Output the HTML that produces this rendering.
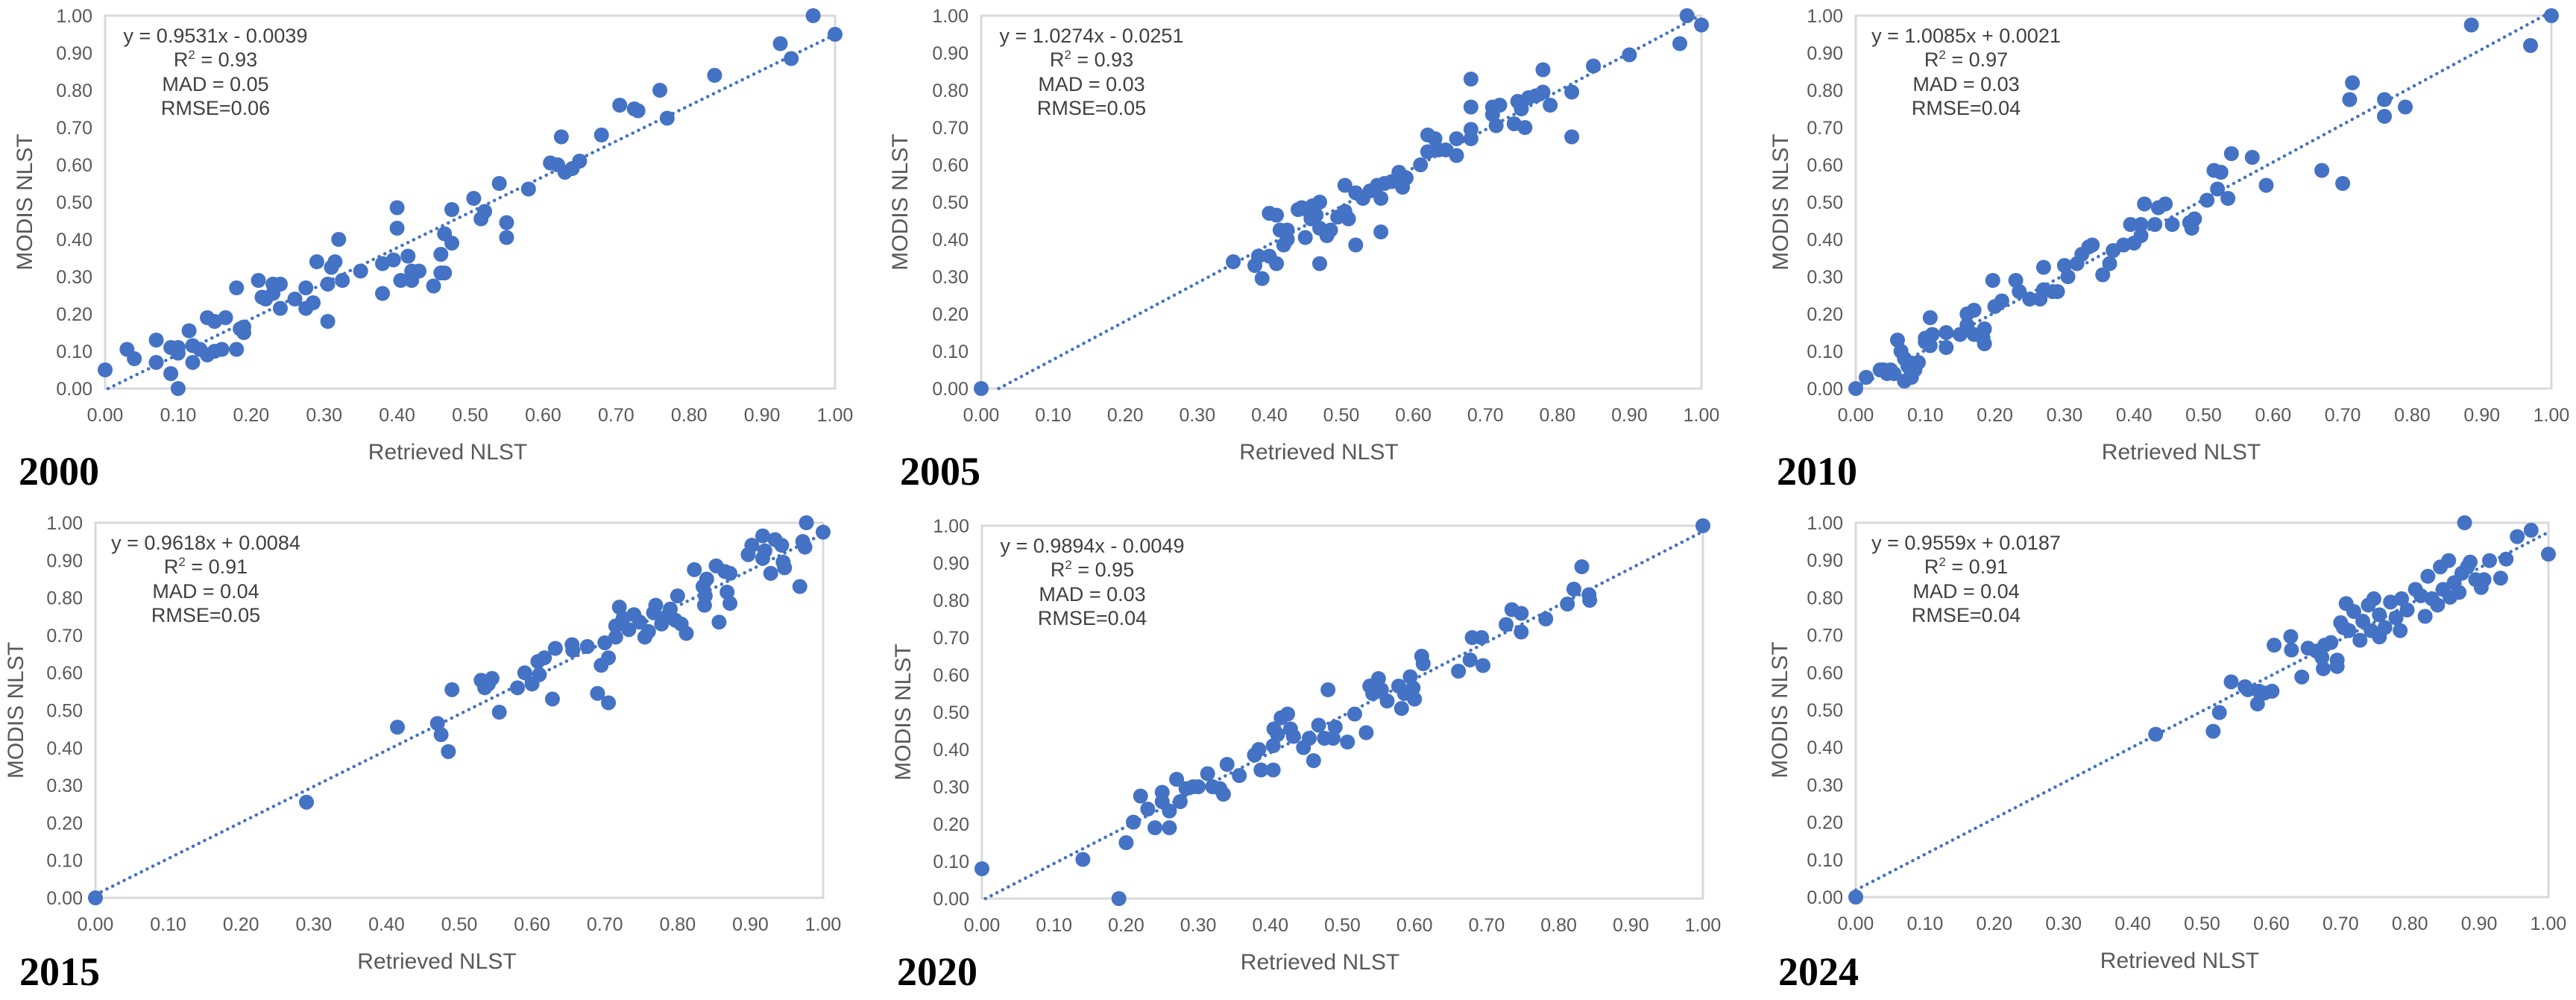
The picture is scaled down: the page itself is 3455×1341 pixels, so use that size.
<!DOCTYPE html>
<html>
<head>
<meta charset="utf-8">
<style>
  html, body { margin: 0; padding: 0; background: #ffffff; }
  body { width: 3455px; height: 1341px; overflow: hidden; }
  svg { display: block; }
  .tick { font-family: "Liberation Sans", sans-serif; font-size: 25px; fill: #595959; }
  .axtitle { font-family: "Liberation Sans", sans-serif; font-size: 30px; fill: #595959; }
  .annot { font-family: "Liberation Sans", sans-serif; font-size: 27px; fill: #404040; }
  .year { font-family: "Liberation Serif", serif; font-size: 54px; font-weight: bold; fill: #000; }
</style>
</head>
<body>
<svg id="fig" width="3455" height="1341" viewBox="0 0 3455 1341" xmlns="http://www.w3.org/2000/svg"></svg>
<script>
// ---------- data ----------
const years = ["2000", "2005", "2010", "2015", "2020", "2024"];
const slopes = [0.9531, 1.0274, 1.0085, 0.9618, 0.9894, 0.9559];
const intercepts = [-0.0039, -0.0251, 0.0021, 0.0084, -0.0049, 0.0187];
const eqLabels = ["y = 0.9531x - 0.0039", "y = 1.0274x - 0.0251", "y = 1.0085x + 0.0021", "y = 0.9618x + 0.0084", "y = 0.9894x - 0.0049", "y = 0.9559x + 0.0187"];
const r2Labels = ["0.93", "0.93", "0.97", "0.91", "0.95", "0.91"];
const madLabels = ["MAD = 0.05", "MAD = 0.03", "MAD = 0.03", "MAD = 0.04", "MAD = 0.03", "MAD = 0.04"];
const rmseLabels = ["RMSE=0.06", "RMSE=0.05", "RMSE=0.04", "RMSE=0.05", "RMSE=0.04", "RMSE=0.04"];
const tickValues = [0, 0.1, 0.2, 0.3, 0.4, 0.5, 0.6, 0.7, 0.8, 0.9, 1.0];
const tickLabels = ["0.00", "0.10", "0.20", "0.30", "0.40", "0.50", "0.60", "0.70", "0.80", "0.90", "1.00"];

const x2000 = [0.00,0.03,0.04,0.07,0.07,0.09,0.10,0.09,0.10,0.10,0.115,0.12,0.12,0.13,0.14,0.15,0.16,0.18,0.14,0.15,0.165,0.18,0.185,0.19,0.19,0.21,0.215,0.23,0.24,0.23,0.24,0.22,0.26,0.275,0.275,0.285,0.29,0.305,0.305,0.31,0.315,0.32,0.325,0.35,0.38,0.38,0.395,0.40,0.40,0.405,0.42,0.415,0.42,0.43,0.45,0.46,0.465,0.46,0.465,0.475,0.475,0.505,0.515,0.52,0.54,0.55,0.55,0.58,0.61,0.62,0.63,0.64,0.65,0.625,0.68,0.705,0.73,0.725,0.76,0.77,0.835,0.925,0.94,0.97,1.00];
const y2000 = [0.05,0.105,0.08,0.13,0.07,0.04,0.00,0.11,0.11,0.095,0.155,0.07,0.115,0.105,0.09,0.10,0.105,0.105,0.19,0.18,0.19,0.27,0.16,0.15,0.165,0.29,0.245,0.28,0.28,0.255,0.215,0.24,0.24,0.27,0.215,0.23,0.34,0.28,0.18,0.325,0.34,0.40,0.29,0.315,0.255,0.335,0.345,0.485,0.43,0.29,0.29,0.355,0.315,0.315,0.275,0.31,0.31,0.36,0.415,0.39,0.48,0.51,0.455,0.475,0.55,0.445,0.405,0.535,0.605,0.60,0.58,0.59,0.61,0.675,0.68,0.76,0.745,0.75,0.80,0.725,0.84,0.925,0.885,1.00,0.95];

const x2005 = [0,0.35,0.38,0.385,0.39,0.40,0.41,0.40,0.41,0.415,0.425,0.42,0.425,0.44,0.445,0.455,0.46,0.47,0.465,0.458,0.45,0.47,0.48,0.485,0.47,0.495,0.505,0.51,0.52,0.505,0.52,0.53,0.54,0.555,0.555,0.55,0.56,0.57,0.58,0.585,0.59,0.61,0.62,0.63,0.62,0.635,0.645,0.66,0.66,0.68,0.68,0.68,0.68,0.71,0.72,0.71,0.715,0.74,0.755,0.745,0.75,0.76,0.77,0.78,0.79,0.78,0.82,0.82,0.85,0.90,0.97,0.98,1.0];
const y2005 = [0,0.34,0.33,0.355,0.295,0.355,0.335,0.47,0.465,0.425,0.425,0.385,0.40,0.48,0.485,0.475,0.49,0.50,0.465,0.455,0.405,0.43,0.41,0.425,0.335,0.46,0.475,0.455,0.385,0.545,0.525,0.51,0.53,0.51,0.42,0.545,0.55,0.555,0.58,0.54,0.565,0.60,0.68,0.67,0.635,0.64,0.64,0.625,0.67,0.83,0.755,0.695,0.67,0.755,0.76,0.735,0.705,0.71,0.70,0.77,0.75,0.78,0.785,0.795,0.76,0.855,0.795,0.675,0.865,0.895,0.925,1.0,0.975];

const x2010 = [0,0.015,0.035,0.04,0.05,0.045,0.055,0.06,0.065,0.07,0.075,0.08,0.07,0.08,0.085,0.09,0.10,0.10,0.11,0.107,0.107,0.13,0.13,0.15,0.16,0.16,0.17,0.17,0.185,0.183,0.185,0.197,0.20,0.21,0.23,0.235,0.25,0.265,0.27,0.27,0.283,0.29,0.30,0.305,0.318,0.325,0.335,0.34,0.355,0.365,0.37,0.385,0.395,0.40,0.41,0.41,0.415,0.43,0.435,0.445,0.455,0.48,0.483,0.487,0.505,0.515,0.52,0.525,0.535,0.54,0.57,0.59,0.67,0.70,0.71,0.714,0.76,0.76,0.79,0.885,0.97,1.0];
const y2010 = [0,0.03,0.05,0.05,0.05,0.04,0.04,0.13,0.10,0.08,0.06,0.045,0.02,0.03,0.05,0.07,0.125,0.135,0.145,0.115,0.19,0.15,0.11,0.145,0.17,0.20,0.21,0.145,0.16,0.135,0.12,0.29,0.22,0.235,0.29,0.26,0.24,0.24,0.265,0.325,0.26,0.26,0.33,0.30,0.335,0.36,0.38,0.385,0.305,0.335,0.37,0.385,0.44,0.39,0.41,0.44,0.495,0.44,0.485,0.495,0.44,0.445,0.43,0.455,0.505,0.585,0.535,0.58,0.51,0.63,0.62,0.545,0.585,0.55,0.775,0.82,0.775,0.73,0.755,0.975,0.92,1.0];

const x2015 = [0,0.29,0.415,0.47,0.475,0.485,0.49,0.53,0.54,0.545,0.535,0.555,0.58,0.59,0.60,0.61,0.608,0.617,0.628,0.632,0.655,0.656,0.676,0.69,0.695,0.705,0.705,0.70,0.715,0.715,0.72,0.725,0.733,0.74,0.748,0.755,0.76,0.767,0.77,0.778,0.785,0.79,0.797,0.805,0.812,0.80,0.823,0.835,0.838,0.84,0.837,0.853,0.857,0.865,0.872,0.868,0.872,0.897,0.902,0.917,0.92,0.917,0.928,0.934,0.943,0.945,0.947,0.968,0.972,0.975,0.977,1.0];
const y2015 = [0,0.255,0.455,0.465,0.435,0.39,0.555,0.58,0.57,0.585,0.56,0.495,0.56,0.60,0.57,0.595,0.63,0.64,0.53,0.665,0.675,0.66,0.67,0.545,0.62,0.52,0.64,0.68,0.695,0.725,0.775,0.745,0.715,0.755,0.735,0.695,0.71,0.76,0.78,0.73,0.75,0.77,0.74,0.73,0.705,0.805,0.875,0.83,0.805,0.85,0.78,0.885,0.735,0.87,0.865,0.815,0.785,0.915,0.94,0.965,0.925,0.905,0.865,0.955,0.94,0.895,0.88,0.83,0.95,0.935,1.0,0.975];

const x2020 = [0,0.14,0.19,0.20,0.21,0.22,0.23,0.24,0.25,0.25,0.26,0.26,0.27,0.275,0.283,0.293,0.30,0.313,0.32,0.33,0.335,0.34,0.357,0.378,0.384,0.387,0.404,0.404,0.405,0.41,0.415,0.424,0.428,0.432,0.446,0.454,0.46,0.467,0.475,0.48,0.487,0.49,0.507,0.517,0.533,0.538,0.542,0.55,0.554,0.562,0.578,0.582,0.586,0.594,0.598,0.60,0.61,0.612,0.661,0.677,0.68,0.693,0.695,0.727,0.735,0.748,0.748,0.782,0.812,0.821,0.832,0.842,0.843,1.0];
const y2020 = [0.08,0.105,0.0,0.15,0.205,0.275,0.24,0.19,0.285,0.26,0.19,0.235,0.32,0.26,0.295,0.30,0.30,0.335,0.30,0.295,0.28,0.36,0.33,0.385,0.40,0.345,0.345,0.41,0.455,0.44,0.485,0.495,0.455,0.435,0.405,0.43,0.37,0.465,0.43,0.56,0.43,0.46,0.42,0.495,0.445,0.57,0.55,0.59,0.56,0.53,0.57,0.51,0.55,0.595,0.565,0.535,0.65,0.63,0.61,0.64,0.70,0.70,0.625,0.735,0.775,0.765,0.715,0.75,0.79,0.83,0.89,0.815,0.80,1.0];

const x2024 = [0,0.433,0.516,0.525,0.542,0.562,0.566,0.58,0.582,0.59,0.601,0.604,0.628,0.629,0.644,0.653,0.665,0.673,0.677,0.675,0.686,0.695,0.695,0.70,0.704,0.708,0.712,0.719,0.728,0.732,0.74,0.744,0.748,0.756,0.756,0.764,0.772,0.78,0.786,0.788,0.796,0.808,0.816,0.822,0.826,0.832,0.84,0.844,0.848,0.856,0.858,0.864,0.871,0.875,0.879,0.883,0.887,0.895,0.903,0.907,0.915,0.931,0.939,0.955,0.975,1.0];
const y2024 = [0,0.435,0.443,0.493,0.575,0.562,0.554,0.516,0.55,0.545,0.55,0.673,0.696,0.66,0.588,0.665,0.657,0.64,0.673,0.61,0.68,0.633,0.616,0.733,0.72,0.784,0.712,0.763,0.686,0.737,0.78,0.712,0.797,0.754,0.695,0.72,0.788,0.746,0.712,0.797,0.767,0.822,0.805,0.75,0.857,0.797,0.78,0.882,0.822,0.899,0.801,0.84,0.814,0.865,1.0,0.882,0.895,0.848,0.827,0.848,0.899,0.852,0.903,0.963,0.98,0.916];

const xSeries = [x2000, x2005, x2010, x2015, x2020, x2024];
const ySeries = [y2000, y2005, y2010, y2015, y2020, y2024];

// ---------- layout (pixel geometry, not data) ----------
const layout = [
  {x0: 141,  x1: 1120, y0: 521,  y1: 21,  yearX: 25,   yearY: 650,  yTitleX: 33},
  {x0: 1316, x1: 2282, y0: 521,  y1: 21,  yearX: 1207, yearY: 650,  yTitleX: 1207},
  {x0: 2489, x1: 3422, y0: 521,  y1: 21,  yearX: 2383, yearY: 650,  yTitleX: 2388},
  {x0: 128,  x1: 1104, y0: 1204, y1: 701, yearX: 26,   yearY: 1321, yTitleX: 21},
  {x0: 1317, x1: 2284, y0: 1205, y1: 705, yearX: 1203, yearY: 1321, yTitleX: 1211},
  {x0: 2489, x1: 3418, y0: 1203, y1: 701, yearX: 2385, yearY: 1321, yTitleX: 2387}
];

const NS = "http://www.w3.org/2000/svg";
const fig = document.getElementById("fig");
function mk(tag, attrs, parent, text) {
  const e = document.createElementNS(NS, tag);
  for (const k in attrs) e.setAttribute(k, attrs[k]);
  if (text !== undefined) e.textContent = text;
  parent.appendChild(e);
  return e;
}

years.forEach((yr, p) => {
  const L = layout[p];
  const sx = v => L.x0 + v * (L.x1 - L.x0);
  const sy = v => L.y0 - v * (L.y0 - L.y1);

  const g = mk("g", {}, fig);
  
  

  const box = mk("rect", {x: L.x0, y: L.y1, width: L.x1 - L.x0, height: L.y0 - L.y1, fill: "none", stroke: "#d9d9d9", "stroke-width": 3}, g);
  
  

  tickValues.forEach((v, i) => {
    const ty = mk("text", {x: L.x0 - 17, y: sy(v) + 9, "text-anchor": "end", class: "tick"}, g, tickLabels[i]);
    
    
    const tx = mk("text", {x: sx(v), y: L.y0 + 44, "text-anchor": "middle", class: "tick"}, g, tickLabels[i]);
    
    
  });

  const xt = mk("text", {x: (L.x0 + L.x1) / 2 - 30, y: L.y0 + 95, "text-anchor": "middle", class: "axtitle"}, g, "Retrieved NLST");
  
  
  const cy = (L.y0 + L.y1) / 2;
  const yt = mk("text", {x: L.yTitleX + 10, y: cy, "text-anchor": "middle", class: "axtitle", transform: "rotate(-90 " + (L.yTitleX + 10) + " " + cy + ")"}, g, "MODIS NLST");
  
  

  // trendline
  const m = slopes[p], b = intercepts[p];
  let xa = 0;
  if (b < 0) xa = -b / m;
  let xb = 1, yb = m + b;
  if (yb > 1) { xb = (1 - b) / m; yb = 1; }
  const tl = mk("line", {x1: sx(xa), y1: sy(m * xa + b), x2: sx(xb), y2: sy(yb), stroke: "#4472c4", "stroke-width": 4.5, "stroke-linecap": "round", "stroke-dasharray": "0.1 8.5"}, g);
  
  

  const xs = xSeries[p], ys = ySeries[p];
  xs.forEach((xv, i) => {
    const c = mk("circle", {cx: sx(xv), cy: sy(ys[i]), r: 10, fill: "#4472c4"}, g);
    
    
  });

  const ax = L.x0 + 148;
  const a1 = mk("text", {x: ax, y: L.y1 + 36, "text-anchor": "middle", class: "annot"}, g, eqLabels[p]);
  
  
  const a2 = mk("text", {x: ax, y: L.y1 + 68, "text-anchor": "middle", class: "annot"}, g);
  
  
  a2.appendChild(document.createTextNode("R"));
  const sup = mk("tspan", {dy: -10, "font-size": "17px"}, a2, "2");
  mk("tspan", {dy: 10}, a2, " = " + r2Labels[p]);
  const a3 = mk("text", {x: ax, y: L.y1 + 101, "text-anchor": "middle", class: "annot"}, g, madLabels[p]);
  
  
  const a4 = mk("text", {x: ax, y: L.y1 + 133, "text-anchor": "middle", class: "annot"}, g, rmseLabels[p]);
  
  

  const yl = mk("text", {x: L.yearX, y: L.yearY, class: "year"}, g, yr);
  
  
});
</script>
</body>
</html>
